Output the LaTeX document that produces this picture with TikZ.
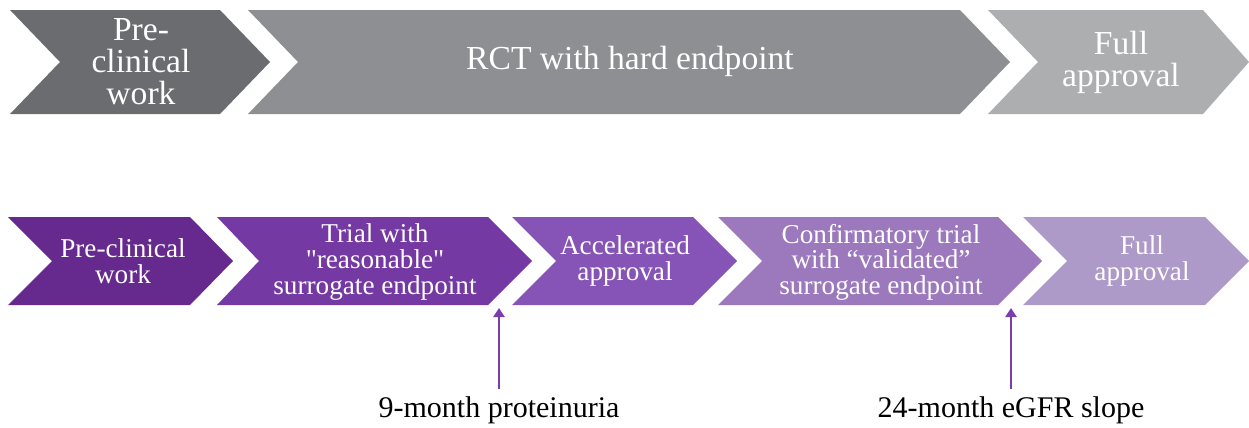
\documentclass[tikz,border=0pt]{standalone}
\usepackage{fontspec}
\setmainfont{Liberation Serif}
\usetikzlibrary{arrows.meta}

\definecolor{greyA}{HTML}{6A6C6F}
\definecolor{greyB}{HTML}{8E8F92}
\definecolor{greyC}{HTML}{ADAEB0}
\definecolor{plumA}{HTML}{66298E}
\definecolor{plumB}{HTML}{7439A3}
\definecolor{plumC}{HTML}{8654B6}
\definecolor{plumD}{HTML}{9B79BC}
\definecolor{plumE}{HTML}{AE9AC8}
\definecolor{plumline}{HTML}{7A3DB0}

\begin{document}
\begin{tikzpicture}[x=0.5pt, y=-0.5pt,
  toptext/.style={text=white, align=center, font=\fontsize{16.8}{16}\selectfont},
  bottext/.style={text=white, align=center, font=\fontsize{13.6}{12.8}\selectfont},
  marktext/.style={text=black, anchor=base, font=\fontsize{15}{17}\selectfont},
  pointer/.style={draw=plumline, line width=1.4pt, -{Triangle[length=4.5pt,width=5.5pt]}}]

\useasboundingbox (0,0) rectangle (1249,428);

% top row
\fill[greyA] (10,10) -- (220,10) -- (270,62) -- (220,114) -- (10,114) -- (60,62) -- cycle;
\fill[greyB] (248,10) -- (960,10) -- (1010,62) -- (960,114) -- (248,114) -- (298,62) -- cycle;
\fill[greyC] (988,10) -- (1203,10) -- (1249,62) -- (1203,114) -- (988,114) -- (1038,62) -- cycle;

\node[toptext] (tpre) at (141,62) {Pre-\\clinical\\work};
\node[toptext] (trct) at (630,61) {RCT with hard endpoint};
\node[toptext] (tfull) at (1121,62) {Full\\approval};

% bottom row
\fill[plumA] (8,217) -- (190,217) -- (233,261) -- (190,305) -- (8,305) -- (52,261) -- cycle;
\fill[plumB] (217,217) -- (488,217) -- (532,261) -- (488,305) -- (217,305) -- (259,261) -- cycle;
\fill[plumC] (512,217) -- (693,217) -- (737,261) -- (693,305) -- (512,305) -- (556,261) -- cycle;
\fill[plumD] (718,217) -- (998,217) -- (1042,261) -- (998,305) -- (718,305) -- (762,261) -- cycle;
\fill[plumE] (1023,217) -- (1205,217) -- (1249,261) -- (1205,305) -- (1023,305) -- (1067,261) -- cycle;

\node[bottext] (bpre) at (123,261) {Pre-clinical\\work};
\node[bottext] (btrial) at (375,262) {Trial with\\\textquotedbl reasonable\textquotedbl\\surrogate endpoint};
\node[bottext] (bacc) at (625,261) {Accelerated\\approval};
\node[bottext] (bconf) at (881,262) {Confirmatory trial\\with “validated”\\surrogate endpoint};
\node[bottext] (bfull) at (1142,261) {Full\\approval};

% surrogate markers
\node[marktext] (mprot) at (499,417) {9-month proteinuria};
\node[marktext] (megfr) at (1011,417) {24-month eGFR slope};

\coordinate (gprot) at (499,308);
\coordinate (gegfr) at (1011,308);

\draw[pointer] (mprot.north) -- (gprot);
\draw[pointer] (megfr.north) -- (gegfr);

\end{tikzpicture}
\end{document}
